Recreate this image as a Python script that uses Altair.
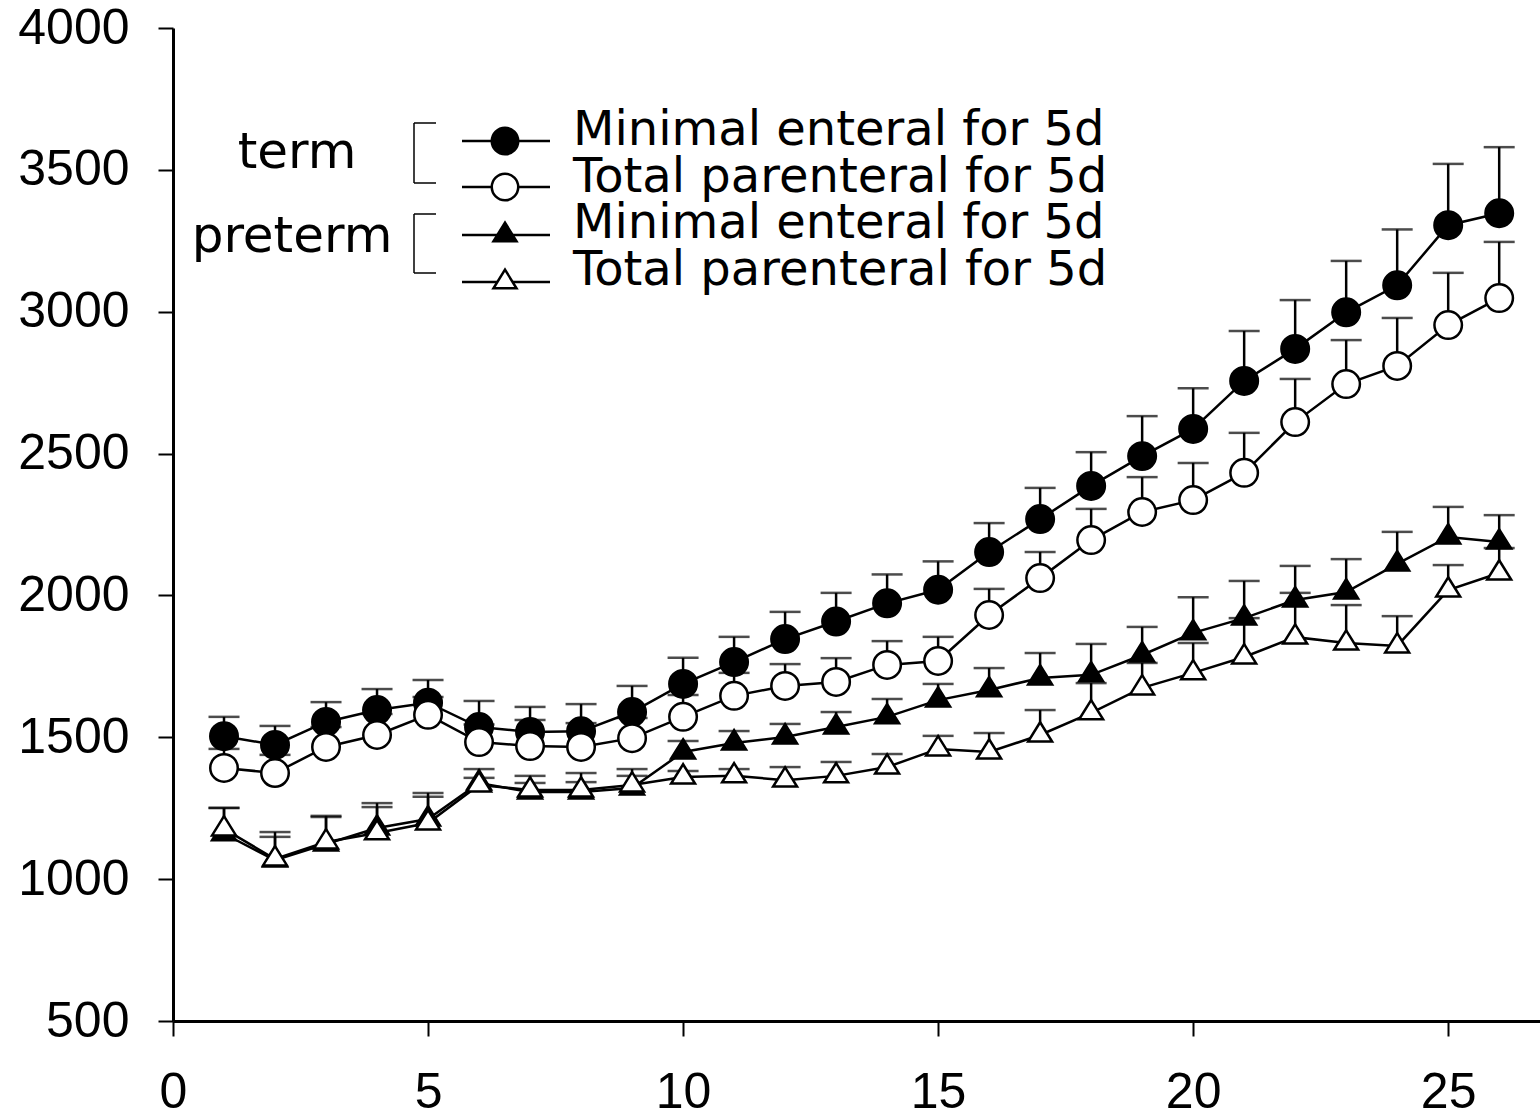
import altair as alt
import pandas as pd

days = list(range(1, 27))

series_names = ["term_ME", "term_TP", "preterm_ME", "preterm_TP"]
legend_labels = ["Minimal enteral for 5d", "Total parenteral for 5d",
                 "Minimal enteral for 5d", "Total parenteral for 5d"]
group_labels = ["term", "preterm"]

term_me = [1504, 1473, 1554, 1596, 1622, 1536, 1519, 1521, 1589, 1688, 1765, 1846, 1908,
           1972, 2020, 2153, 2269, 2386, 2491, 2587, 2756, 2869, 2998, 3093, 3305, 3347]
term_me_err = [68, 67, 70, 74, 80, 92, 88, 96, 92, 92, 89, 96, 101,
               102, 100, 102, 110, 119, 141, 143, 176, 172, 181, 197, 216, 233]

term_tp = [1392, 1374, 1466, 1508, 1579, 1483, 1469, 1466, 1497, 1572, 1646, 1681, 1695,
           1755, 1769, 1931, 2061, 2195, 2294, 2336, 2432, 2611, 2745, 2809, 2953, 3048]
term_tp_err = [67, 64, 70, 74, 63, 62, 92, 84, 71, 77, 81, 77, 84,
               84, 85, 92, 92, 110, 123, 131, 141, 152, 155, 169, 184, 198]

preterm_me = [1160, 1067, 1124, 1180, 1212, 1339, 1307, 1307, 1321, 1448, 1480, 1501, 1536,
              1572, 1631, 1667, 1709, 1720, 1790, 1868, 1920, 1984, 2012, 2111, 2206, 2188]
preterm_me_err = [91, 99, 95, 88, 92, 49, 57, 67, 67, 39, 42, 46, 53,
                  63, 57, 77, 88, 109, 99, 126, 131, 120, 116, 113, 106, 95]

preterm_tp = [1177, 1071, 1131, 1163, 1198, 1332, 1314, 1314, 1332, 1360, 1364, 1349, 1364,
              1395, 1459, 1448, 1508, 1586, 1674, 1727, 1783, 1853, 1832, 1822, 2019, 2079]
preterm_tp_err = [74, 78, 92, 91, 92, 25, 25, 28, 32, 21, 24, 46, 49,
                  46, 46, 67, 88, 105, 88, 105, 137, 156, 134, 105, 88, 88]

x_ticks = [0, 5, 10, 15, 20, 25]
y_ticks = [500, 1000, 1500, 2000, 2500, 3000, 3500, 4000]

# ---- build table ----
rows = []
for name, means, errs in zip(series_names,
                             [term_me, term_tp, preterm_me, preterm_tp],
                             [term_me_err, term_tp_err, preterm_me_err, preterm_tp_err]):
    for d, m, e in zip(days, means, errs):
        rows.append({"day": d, "series": name, "mean": m, "upper": m + e})
df = pd.DataFrame(rows)

# ---- styles ----
FONT = "Liberation Sans"
LEG_FONT = "DejaVu Sans"
CIRCLE = "M1,0A1,1 0 1,1 -1,0A1,1 0 1,1 1,0Z"
TRIANGLE = "M0,-0.93L0.87,0.47L-0.87,0.47Z"
shapes = [CIRCLE, CIRCLE, TRIANGLE, TRIANGLE]
fills = ["black", "white", "black", "white"]
W, H = 1367, 993

x_enc = alt.X("day:Q", scale=alt.Scale(domain=[0, 26.8], nice=False, zero=False),
              axis=alt.Axis(values=x_ticks, title=None, labelPadding=31, format="d"))
y_scale = alt.Scale(domain=[500, 4000], nice=False, zero=False)
y_axis = alt.Axis(values=y_ticks, title=None, labelPadding=29, format="d")

lines = alt.Chart(df).mark_line(color="black", strokeWidth=2.5).encode(
    x=x_enc,
    y=alt.Y("mean:Q", scale=y_scale, axis=y_axis),
    detail="series:N",
)

err_rules = alt.Chart(df).mark_rule(color="black", strokeWidth=2.5).encode(
    x="day:Q", y="mean:Q", y2="upper:Q"
)

caps = alt.Chart(df).mark_tick(color="black", orient="horizontal", size=31,
                               thickness=2.5).encode(
    x="day:Q", y="upper:Q"
)

points = alt.Chart(df).mark_point(filled=True, stroke="black", strokeWidth=2.5,
                                  size=756, opacity=1).encode(
    x="day:Q",
    y="mean:Q",
    shape=alt.Shape("series:N", scale=alt.Scale(domain=series_names, range=shapes), legend=None),
    fill=alt.Fill("series:N", scale=alt.Scale(domain=series_names, range=fills), legend=None),
)

# ---- manual legend (pixel positions relative to plot area) ----
leg_line_y = [113, 159, 207, 254]
leg_text_y = [117, 164, 210, 257]
leg_line_x0, leg_line_x1, leg_marker_x, leg_text_x = 289, 377, 332, 400
legend_layers = []
for i, lab in enumerate(legend_labels):
    one = pd.DataFrame({"label": [lab]})
    legend_layers.append(
        alt.Chart(one).mark_rule(color="black", strokeWidth=2.5).encode(
            x=alt.value(leg_line_x0), x2=alt.value(leg_line_x1), y=alt.value(leg_line_y[i]))
    )
    legend_layers.append(
        alt.Chart(one).mark_point(shape=shapes[i], size=700, filled=True, fill=fills[i],
                                  stroke="black", strokeWidth=2.5, opacity=1).encode(
            x=alt.value(leg_marker_x), y=alt.value(leg_line_y[i]))
    )
    legend_layers.append(
        alt.Chart(one).mark_text(align="left", baseline="alphabetic", font=LEG_FONT,
                                 fontSize=48, color="black").encode(
            x=alt.value(leg_text_x), y=alt.value(leg_text_y[i]), text="label:N")
    )

group_pos = [(124, 140), (119, 224)]
bracket_y = [(95, 155), (186, 245)]
br_x0, br_x1 = 241, 263
for (gx, gy), lab, (b0, b1) in zip(group_pos, group_labels, bracket_y):
    one = pd.DataFrame({"label": [lab]})
    legend_layers.append(
        alt.Chart(one).mark_text(align="center", baseline="alphabetic", font=LEG_FONT,
                                 fontSize=50, color="black").encode(
            x=alt.value(gx), y=alt.value(gy), text="label:N")
    )
    legend_layers.append(
        alt.Chart(one).mark_rule(color="black", strokeWidth=1.5).encode(
            x=alt.value(br_x0), y=alt.value(b0), y2=alt.value(b1))
    )
    legend_layers.append(
        alt.Chart(one).mark_rule(color="black", strokeWidth=1.5).encode(
            x=alt.value(br_x0), x2=alt.value(br_x1), y=alt.value(b0))
    )
    legend_layers.append(
        alt.Chart(one).mark_rule(color="black", strokeWidth=1.5).encode(
            x=alt.value(br_x0), x2=alt.value(br_x1), y=alt.value(b1))
    )

chart = alt.layer(lines, err_rules, caps, points, *legend_layers).properties(
    width=W, height=H,
    autosize=alt.AutoSizeParams(type="none"),
    padding={"left": 173, "top": 28, "right": 0, "bottom": 96},
    background="white",
).configure_view(stroke=None).configure_axis(
    grid=False,
    domainColor="black", domainWidth=3,
    tickColor="black", tickWidth=2, tickSize=15,
    labelFont=FONT, labelFontSize=50, labelColor="black",
    labelFlush=False, labelOverlap=False,
)

chart.save("out.html", embed_options={"renderer": "svg", "actions": False})
